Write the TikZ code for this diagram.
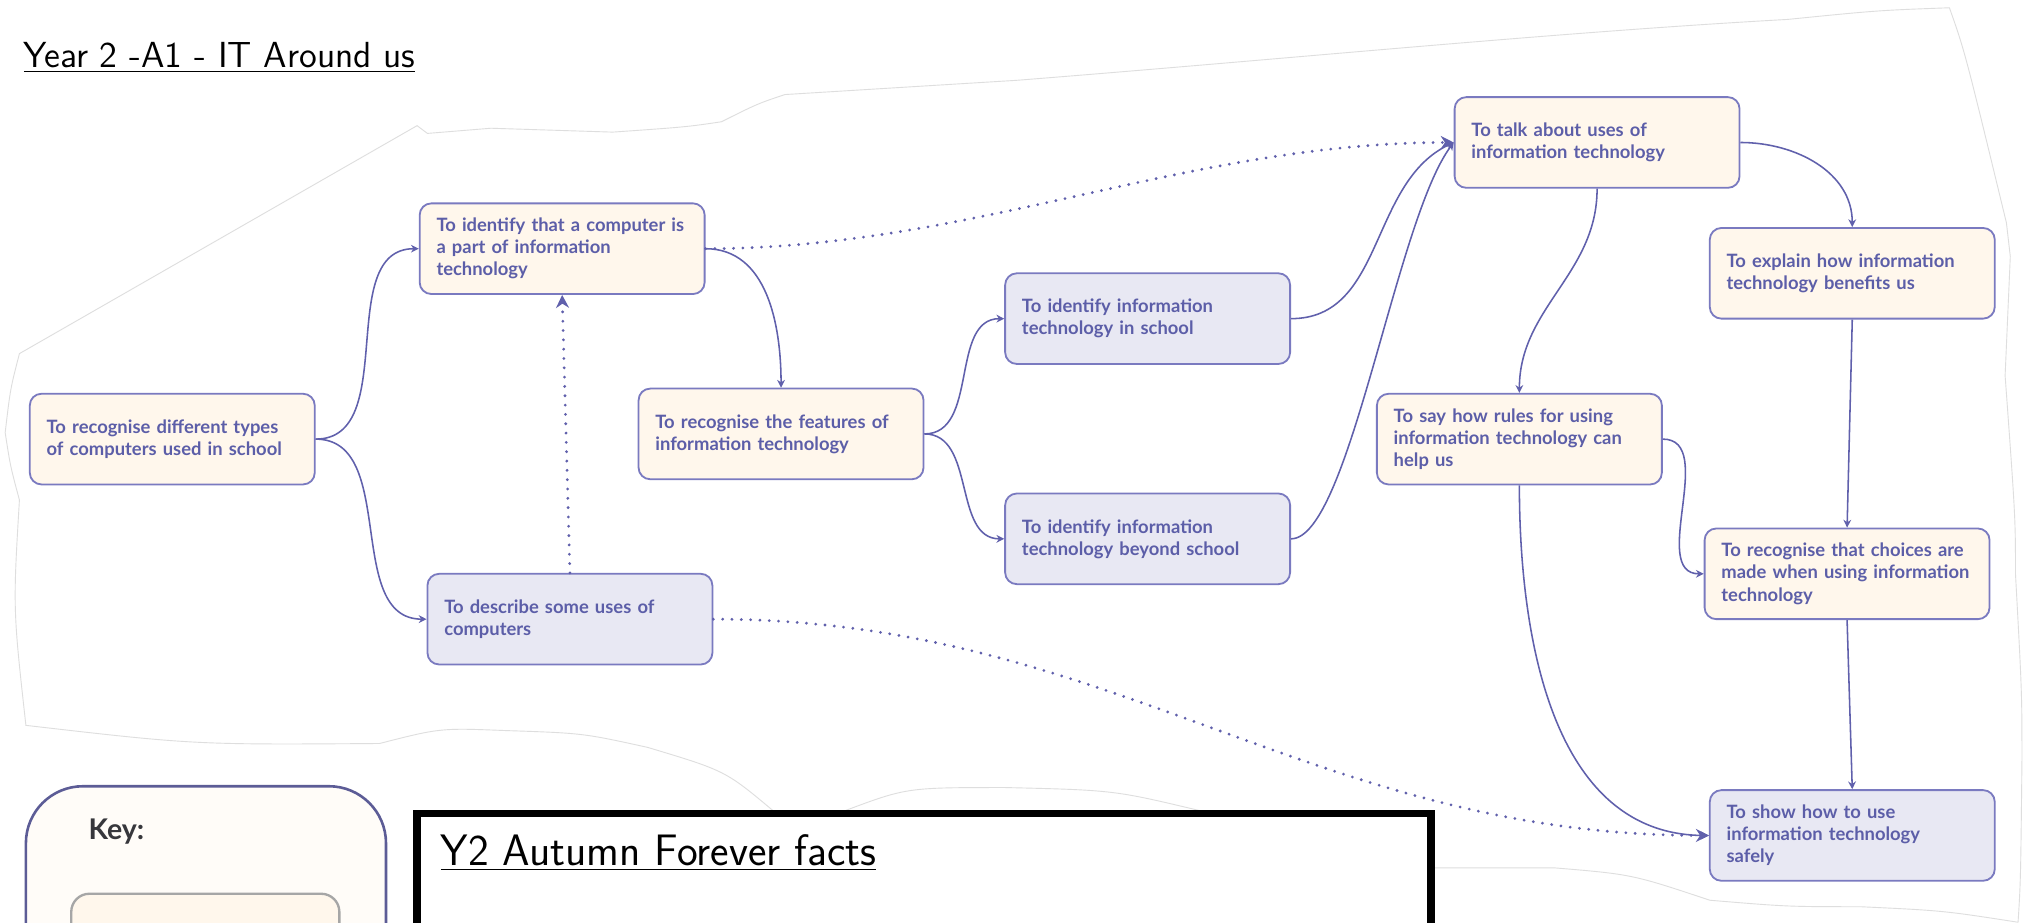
\documentclass[tikz,border=0pt]{standalone}
\usepackage{fontspec}
\setmainfont{Lato}
\newfontfamily\nodefont{Lato}
\usetikzlibrary{arrows.meta}
\definecolor{nodeborder}{RGB}{122,122,192}
\definecolor{nodetext}{RGB}{92,94,168}
\definecolor{linkcol}{RGB}{96,96,172}
\definecolor{creamfill}{RGB}{255,247,236}
\definecolor{lavfill}{RGB}{232,232,243}
\definecolor{keyborder}{RGB}{92,92,150}
\definecolor{keyfill}{RGB}{255,252,248}
\definecolor{cloudcol}{RGB}{222,222,222}
\begin{document}
\begin{tikzpicture}[x=0.5pt,y=-0.5pt,
  box/.style={draw=nodeborder, line width=0.7pt, rounded corners=4.5pt,
    minimum height=35pt, text width=97pt, align=left, inner xsep=6.5pt,
    font=\nodefont\bfseries\fontsize{7.1}{8.5}\selectfont, text=nodetext},
  cream/.style={box, fill=creamfill},
  lav/.style={box, fill=lavfill},
  link/.style={draw=linkcol, line width=0.6pt, -{Stealth[length=3pt,width=3pt]}},
  dotlink/.style={draw=linkcol, line width=1.2pt, line cap=round,
    dash pattern=on 0pt off 3.6pt, -{Stealth[length=5pt,width=5pt]}}]
\useasboundingbox (0,0) rectangle (1568,712);
\clip (0,0) rectangle (1568,712);
\fill[white] (0,0) rectangle (1568,712);

% faint background outline
\draw[cloudcol, line width=0.35pt]
  (15,386) .. controls (8,360) .. (4,334) .. controls (8,300) .. (15,273)
  -- (322,97) -- (330,103) -- (379,99) -- (473,102)
  .. controls (530,98) .. (557,94) .. controls (585,80) .. (606,73)
  -- (785,62) .. controls (1000,45) and (1200,25) .. (1380,15)
  .. controls (1450,8) .. (1505,6)
  .. controls (1517,40) .. (1549,172) -- (1552,198) -- (1548,290)
  .. controls (1556,400) .. (1556,443)
  .. controls (1561,535) .. (1561,587) .. controls (1560,680) .. (1558,712);
\draw[cloudcol, line width=0.35pt]
  (15,386) .. controls (10,470) .. (20,560)
  .. controls (150,575) .. (293,574) .. controls (340,562) .. (390,564)
  .. controls (450,566) .. (500,577) .. controls (560,595) .. (597,626);
\draw[cloudcol, line width=0.35pt]
  (652,626) .. controls (700,608) .. (776,608) .. controls (860,610) .. (927,626);
\draw[cloudcol, line width=0.35pt]
  (1107,670) -- (1200,670) .. controls (1260,675) .. (1320,695)
  .. controls (1380,700) .. (1436,700) .. controls (1500,703) .. (1558,712);

% title
\node[anchor=base west, inner sep=0pt] (title) at (18,52)
  {\sffamily\fontsize{14}{16}\selectfont\underline{Year 2 -A1 - IT Around us}};

% key box
\draw[keyborder, line width=1pt, rounded corners=22pt, fill=keyfill] (20,607) rectangle (298,760);
\node[anchor=base west, inner sep=0pt, font=\nodefont\bfseries\fontsize{11}{13}\selectfont, text={rgb,255:red,55;green,55;blue,60}] (key) at (68,648) {Key:};
\draw[gray!70, line width=0.9pt, rounded corners=7pt, fill=creamfill] (55,690) rectangle (262,760);

% forever facts box
\draw[black, line width=3pt, fill=white] (322,628) rectangle (1105,760);
\node[anchor=base west, inner sep=0pt] (facts) at (340,668)
  {\sffamily\fontsize{17}{19}\selectfont\underline{Y2 Autumn Forever facts}};

% nodes
\node[cream] (n1) at (133,339) {To recognise different types\\of computers used in school};
\node[cream] (n2) at (434,192) {To identify that a computer is\\a part of information\\technology};
\node[lav] (n3) at (440,478) {To describe some uses of\\computers};
\node[cream] (n4) at (603,335) {To recognise the features of\\information technology};
\node[lav] (n5) at (886,246) {To identify information\\technology in school};
\node[lav] (n6) at (886,416) {To identify information\\technology beyond school};
\node[cream] (n7) at (1233,110) {To talk about uses of\\information technology};
\node[cream] (n8) at (1430,211) {To explain how information\\technology benefits us};
\node[cream] (n9) at (1173,339) {To say how rules for using\\information technology can\\help us};
\node[cream] (n10) at (1426,443) {To recognise that choices are\\made when using information\\technology};
\node[lav] (n11) at (1430,645) {To show how to use\\information technology\\safely};

% connectors
\draw[link] (n1.east) to[out=0,in=180] (n2.west);
\draw[link] (n1.east) to[out=0,in=180] (n3.west);
\draw[dotlink] (n3.north) -- (n2.south);
\draw[link] (n2.east) to[out=0,in=90] (n4.north);
\draw[dotlink] (n2.east) to[out=0,in=180,looseness=0.9] (n7.west);
\draw[link] (n4.east) to[out=0,in=180] (n5.west);
\draw[link] (n4.east) to[out=0,in=180] (n6.west);
\draw[link] (n5.east) to[out=0,in=205] (n7.west);
\draw[link] (n6.east) .. controls +(45,0) and +(-45,60) .. (n7.west);
\draw[link] (n7.east) to[out=0,in=90] (n8.north);
\draw[link] (n7.south) to[out=-90,in=90] (n9.north);
\draw[link] (n8.south) -- (n10.north);
\draw[link] (n9.east) to[out=0,in=180] (n10.west);
\draw[link] (n10.south) -- (n11.north);
\draw[link] (n9.south) to[out=-90,in=180] (n11.west);
\draw[dotlink] (n3.east) to[out=0,in=180] (n11.west);
\end{tikzpicture}
\end{document}
